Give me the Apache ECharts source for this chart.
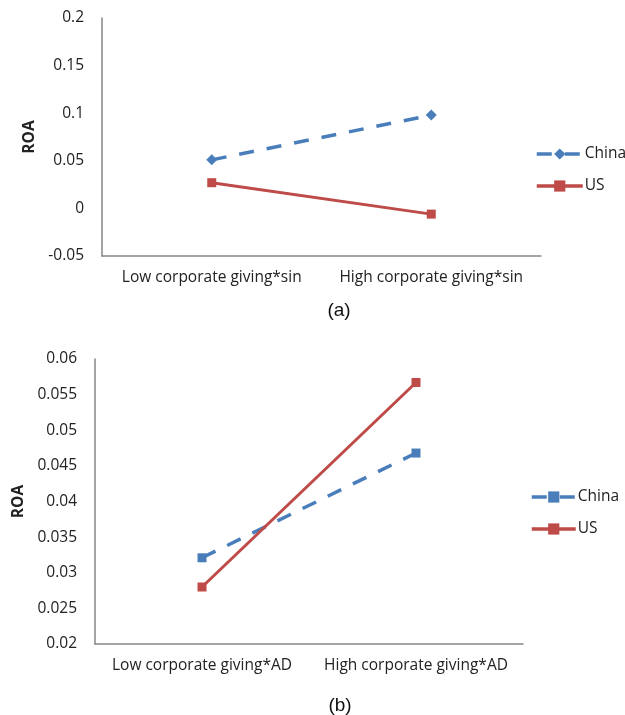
<!DOCTYPE html>
<html>
<head>
<meta charset="utf-8">
<script src="https://cdn.jsdelivr.net/npm/echarts@6/dist/echarts.min.js"></script>
<style>html,body{margin:0;padding:0;background:#fff}#c{width:625px;height:715px}</style>
</head>
<body>
<div id="c"></div>
<script>
var categoriesA = ['Low corporate giving*sin', 'High corporate giving*sin'];
var chinaA = [0.051, 0.098];
var usA = [0.027, -0.006];
var yTicksA = { min: -0.05, max: 0.2, interval: 0.05 };

var categoriesB = ['Low corporate giving*AD', 'High corporate giving*AD'];
var chinaB = [0.0321, 0.0468];
var usB = [0.0280, 0.0567];
var yTicksB = { min: 0.02, max: 0.06, interval: 0.005 };

var BLUE = '#4A7EBB', RED = '#BE4B48', AXIS = '#868686';
var FONT = 'Open Sans';
var FS = 15.5;

function xAxis(grid, cats) {
  return {
    type: 'category', gridIndex: grid, data: cats, boundaryGap: true,
    axisLine: { onZero: false, lineStyle: { color: AXIS, width: 1.5 } },
    axisTick: { show: false },
    axisLabel: { interval: 0, color: '#222', fontFamily: FONT, fontSize: FS, margin: 14 }
  };
}
function yAxis(grid, t, gap) {
  return {
    type: 'value', gridIndex: grid, min: t.min, max: t.max, interval: t.interval,
    name: 'ROA', nameLocation: 'middle', nameGap: gap,
    nameTextStyle: { fontFamily: FONT, fontWeight: 'bold', fontSize: FS, color: '#222' },
    axisLine: { show: true, lineStyle: { color: AXIS, width: 1.5 } },
    axisTick: { show: false },
    splitLine: { show: false },
    axisLabel: { color: '#222', fontFamily: FONT, fontSize: FS, margin: 18,
      formatter: function (v) { return String(parseFloat(v.toFixed(4))); } }
  };
}

var chart = echarts.init(document.getElementById('c'), null, { renderer: 'canvas' });
chart.setOption({
  animation: false,
  backgroundColor: '#fff',
  title: [
    { text: '(a)', left: 334, top: 296, textAlign: 'center',
      textStyle: { fontFamily: 'Liberation Sans', fontWeight: 'normal', fontSize: 19, color: '#111' } },
    { text: '(b)', left: 335, top: 691, textAlign: 'center',
      textStyle: { fontFamily: 'Liberation Sans', fontWeight: 'normal', fontSize: 19, color: '#111' } }
  ],
  grid: [
    { left: 102, top: 18, width: 439, height: 238 },
    { left: 95, top: 359, width: 428, height: 285 }
  ],
  legend: [
    { left: 530, top: 141, orient: 'vertical', itemGap: 16, itemWidth: 46, itemHeight: 14,
      data: ['China', 'US'],
      lineStyle: { width: 3.5 },
      textStyle: { fontFamily: FONT, fontSize: FS, color: '#222', padding: [0, 0, 0, -3] } },
    { left: 525, top: 484, orient: 'vertical', itemGap: 16, itemWidth: 44, itemHeight: 14,
      data: ['China (b)', 'US (b)'],
      lineStyle: { width: 3.5 },
      formatter: function (n) { return n.replace(' (b)', ''); },
      textStyle: { fontFamily: FONT, fontSize: FS, color: '#222', padding: [0, 0, 0, -3] } }
  ],
  xAxis: [xAxis(0, categoriesA), xAxis(1, categoriesB)],
  yAxis: [yAxis(0, yTicksA, 62), yAxis(1, yTicksB, 65)],
  series: [
    { name: 'China', type: 'line', xAxisIndex: 0, yAxisIndex: 0, data: chinaA,
      symbol: 'diamond', symbolSize: 11, color: BLUE,
      lineStyle: { color: BLUE, width: 3.5, type: [15, 13] }, itemStyle: { color: BLUE } },
    { name: 'US', type: 'line', xAxisIndex: 0, yAxisIndex: 0, data: usA,
      symbol: 'rect', symbolSize: 9, color: RED,
      lineStyle: { color: RED, width: 3 }, itemStyle: { color: RED } },
    { name: 'China (b)', type: 'line', xAxisIndex: 1, yAxisIndex: 1, data: chinaB,
      symbol: 'rect', symbolSize: 9, color: BLUE,
      lineStyle: { color: BLUE, width: 3.5, type: [15, 13] }, itemStyle: { color: BLUE } },
    { name: 'US (b)', type: 'line', xAxisIndex: 1, yAxisIndex: 1, data: usB,
      symbol: 'rect', symbolSize: 9, color: RED,
      lineStyle: { color: RED, width: 3 }, itemStyle: { color: RED } }
  ]
});
</script>
</body>
</html>
